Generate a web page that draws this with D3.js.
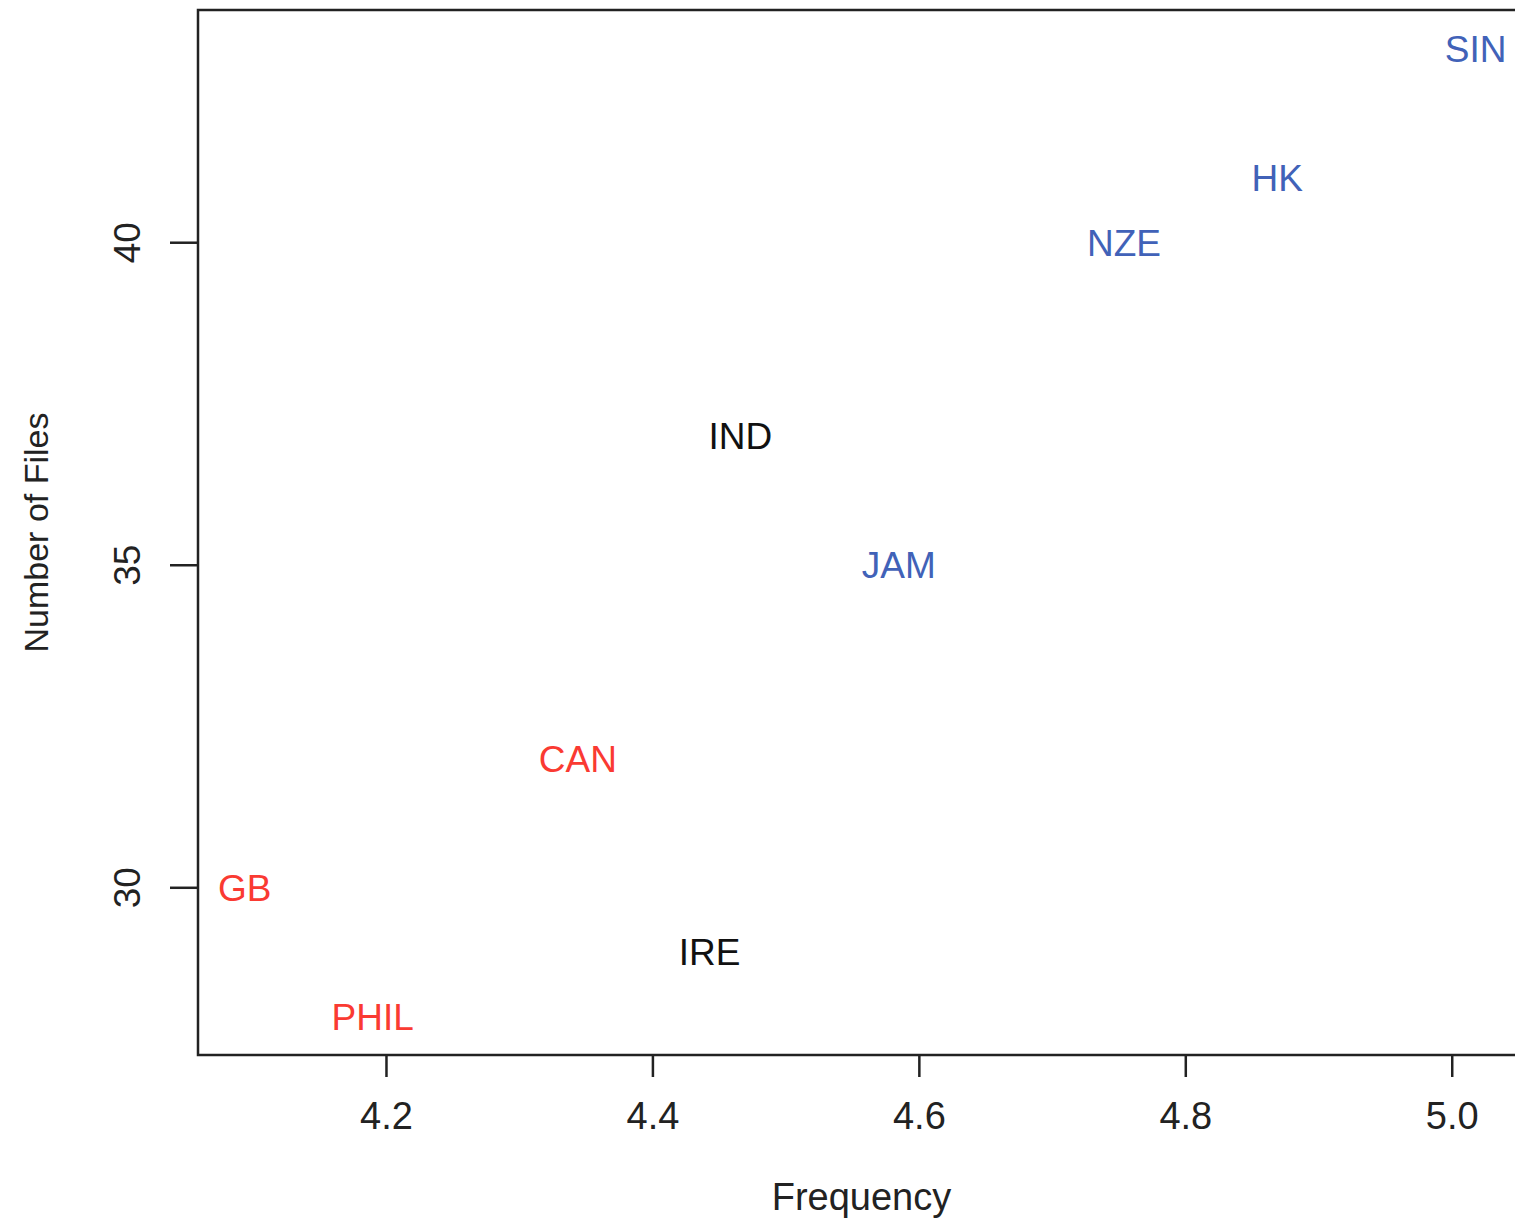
<!DOCTYPE html>
<html>
<head>
<meta charset="utf-8">
<script src="https://cdn.jsdelivr.net/npm/d3@7"></script>
<style>
  body { margin: 0; background: #fff; }
  svg { display: block; font-family: "Liberation Sans", Arial, sans-serif; }
</style>
</head>
<body>
<svg id="chart" width="1515" height="1220"></svg>
<script>
// data
var countries = ["SIN", "HK", "NZE", "IND", "JAM", "CAN", "GB", "IRE", "PHIL"];
var frequency = [5.018, 4.869, 4.754, 4.466, 4.585, 4.344, 4.094, 4.443, 4.190];
var files     = [43, 41, 40, 37, 35, 32, 30, 29, 28];
var groups    = ["blue", "blue", "blue", "black", "blue", "red", "red", "black", "red"];
var xTicks = [4.2, 4.4, 4.6, 4.8, 5.0];
var yTicks = [30, 35, 40];

(function () {
  'use strict';

  var colours = { blue: "#4162b8", red: "#fa3a32", black: "#111111" };

  var svg = d3.select("#chart");
  var box = { left: 198, top: 10, right: 1525, bottom: 1055 };

  var x = d3.scaleLinear().domain([4.0589, 5.0550]).range([box.left, box.right]);
  var y = d3.scaleLinear().domain([27.4, 43.6]).range([box.bottom, box.top]);

  var points = countries.map(function (c, i) {
    return { name: c, x: frequency[i], y: files[i], group: groups[i] };
  });

  // box
  svg.append("rect")
    .attr("x", box.left).attr("y", box.top)
    .attr("width", box.right - box.left).attr("height", box.bottom - box.top)
    .attr("fill", "none").attr("stroke", "#222").attr("stroke-width", 2.5);

  // x axis
  var xAxis = svg.append("g")
    .attr("transform", "translate(0," + box.bottom + ")")
    .call(d3.axisBottom(x).tickValues(xTicks).tickFormat(d3.format(".1f"))
      .tickSize(22).tickPadding(25));
  xAxis.select(".domain").remove();
  xAxis.selectAll("line").attr("stroke", "#222").attr("stroke-width", 2.5);
  xAxis.selectAll("text").attr("font-size", 38).attr("fill", "#222")
    .attr("font-family", "Liberation Sans, Arial, sans-serif");

  // y axis
  var yAxis = svg.append("g")
    .attr("transform", "translate(" + box.left + ",0)")
    .call(d3.axisLeft(y).tickValues(yTicks).tickSize(28).tickFormat(d3.format("d")));
  yAxis.select(".domain").remove();
  yAxis.selectAll("line").attr("stroke", "#222").attr("stroke-width", 2.5);
  yAxis.selectAll("text")
    .attr("font-size", 37).attr("fill", "#222")
    .attr("font-family", "Liberation Sans, Arial, sans-serif")
    .attr("x", null)
    .attr("text-anchor", "middle")
    .attr("transform", "translate(-71,0) rotate(-90)")
    .attr("dy", "0.35em");

  // axis titles
  svg.append("text")
    .attr("x", (box.left + box.right) / 2).attr("y", 1197)
    .attr("dy", "0.35em")
    .attr("text-anchor", "middle")
    .attr("font-size", 38).attr("fill", "#222")
    .text("Frequency");

  svg.append("text")
    .attr("transform", "translate(36," + (box.top + box.bottom) / 2 + ") rotate(-90)")
    .attr("dy", "0.35em")
    .attr("text-anchor", "middle")
    .attr("font-size", 34).attr("fill", "#222")
    .text("Number of Files");

  // labels as points
  svg.append("g").selectAll("text")
    .data(points)
    .join("text")
    .attr("x", function (d) { return x(d.x); })
    .attr("y", function (d) { return y(d.y); })
    .attr("dy", "0.36em")
    .attr("text-anchor", "middle")
    .attr("font-size", 37)
    .attr("fill", function (d) { return colours[d.group]; })
    .text(function (d) { return d.name; });
})();
</script>
</body>
</html>
